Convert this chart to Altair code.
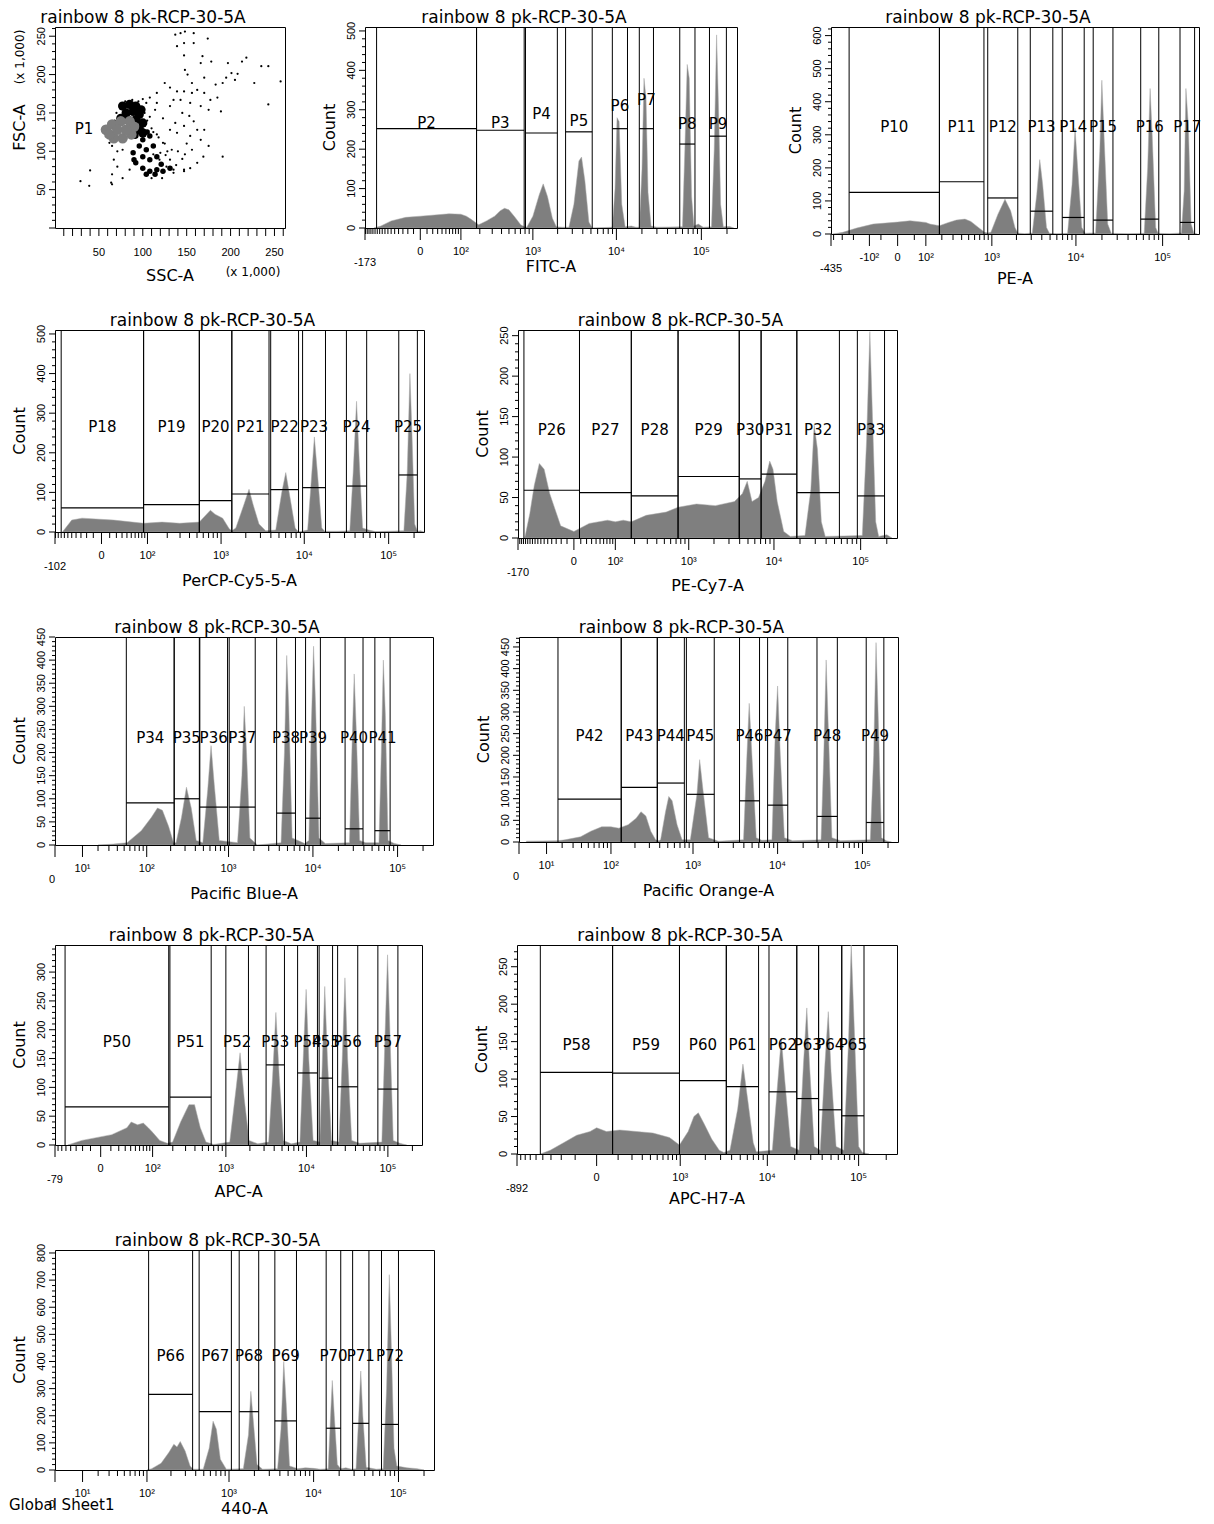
import math
import altair as alt
import pandas as pd

TITLE = "rainbow 8 pk-RCP-30-5A"
FONT = "DejaVu Sans"
TICK_FONT = "Liberation Sans"
TOP = 262144
HIST_FILL = "#7f7f7f"

# ---- FSC-A / SSC-A dot plot, values x 1,000 : (SSC, FSC) ----
scatter_dots = [
    (137, 252), (143, 254), (148, 256), (158, 254), (139, 237), (147, 241), (158, 241), (174, 247),
    (147, 225), (168, 224), (166, 215), (178, 217), (197, 215), (213, 217), (218, 222), (235, 211),
    (243, 211), (257, 191), (148, 206), (151, 200), (156, 189), (170, 196), (183, 187), (191, 189),
    (195, 196), (205, 193), (208, 201), (227, 189), (201, 202), (125, 189), (116, 176), (131, 183),
    (139, 178), (147, 178), (156, 176), (162, 180), (170, 176), (177, 167), (185, 170), (143, 167),
    (154, 163), (166, 159), (175, 154), (189, 152), (243, 161), (145, 150), (153, 146), (158, 139),
    (137, 137), (147, 133), (162, 128), (170, 128), (139, 124), (154, 120), (166, 115), (175, 107),
    (156, 102), (148, 96), (169, 93), (191, 93), (162, 85), (154, 78), (147, 74), (135, 76),
    (127, 80), (119, 89), (133, 102), (123, 111), (116, 122), (131, 128), (123, 143), (114, 154),
    (104, 163), (116, 163), (131, 159), (135, 167), (108, 170), (29, 61), (40, 75), (39, 55),
    (64, 59), (65, 57), (65, 70), (77, 65), (71, 80), (67, 89), (85, 76), (110, 65), (122, 65),
    (135, 72), (147, 76), (131, 89), (62, 111), (65, 107), (71, 100), (77, 102), (105, 140),
    (110, 130), (112, 125), (118, 118), (125, 110), (128, 100), (120, 98), (112, 96), (140, 100),
    (150, 110), (145, 90), (138, 82), (126, 95), (102, 150), (108, 145), (95, 165), (100, 168),
    (88, 167), (80, 165), (70, 150), (68, 140),
]
scatter_tail = [
    (92, 120), (100, 115), (108, 120), (96, 107), (104, 102), (112, 107), (100, 93), (108, 89),
    (116, 93), (92, 85), (100, 78), (108, 74), (116, 76), (123, 74), (131, 78), (104, 70),
    (114, 70), (121, 83), (89, 98), (90, 89), (98, 130), (105, 125),
]
scatter_core = [
    (77, 159), (85, 161), (92, 159), (98, 154), (81, 150), (89, 152), (96, 148), (75, 143),
    (83, 141), (92, 141), (100, 137), (94, 128), (100, 124), (90, 122),
]
scatter_p1 = [
    (58, 128), (65, 135), (75, 139), (85, 139), (90, 132), (87, 122), (77, 117), (67, 117),
    (62, 122), (71, 128), (81, 128),
]

# ---- histograms: (channel value, count) and interval gates ----
fitc_hist = [
    (-125, 0), (-95, 5), (-60, 18), (-24, 27), (0, 30), (24, 33), (59, 36), (100, 35), (124, 30),
    (148, 22), (179, 12), (192, 8), (249, 18), (323, 30), (385, 44), (438, 50), (499, 46),
    (594, 28), (706, 8), (783, 3), (841, 2), (1000, 30), (1200, 85), (1339, 112), (1510, 80),
    (1730, 25), (1931, 3), (2300, 2), (2733, 2), (3135, 60), (3597, 170), (3866, 180),
    (4236, 120), (4728, 15), (5176, 0), (8955, 2), (9639, 100), (10180, 280), (10760, 270),
    (11570, 60), (12680, 3), (15000, 5), (17000, 2), (18620, 2), (20040, 150), (21150, 380),
    (22340, 330), (23600, 90), (25620, 5), (30000, 2), (59980, 3), (63970, 200), (68150, 415),
    (71990, 380), (76740, 80), (81850, 5), (92000, 10), (105000, 2), (131500, 3), (141600, 200),
    (151000, 490), (159300, 300), (168400, 60), (181100, 3), (215000, 4), (240000, 0),
]
fitc_names = ["P2", "P3", "P4", "P5", "P6", "P7", "P8", "P9"]
fitc_x1 = [-113, 179, 810, 2494, 8955, 18620, 55700, 124500]
fitc_x2 = [179, 780, 1986, 5176, 13520, 27350, 84100, 196700]
fitc_level = [252, 248, 241, 244, 252, 252, 213, 233]
fitc_label_y = [267, 267, 288, 271, 309, 326, 264, 264]

pe_hist = [
    (-411, 0), (-294, 5), (-176, 18), (-82, 30), (0, 36), (35, 40), (100, 35), (122, 30),
    (182, 25), (256, 35), (337, 42), (445, 45), (535, 38), (673, 20), (809, 5), (887, 3),
    (973, 5), (1191, 60), (1453, 105), (1703, 70), (1918, 20), (2075, 3), (2500, 1),
    (3090, 3), (3488, 120), (3782, 225), (4093, 150), (4539, 20), (4913, 2), (6000, 1),
    (8000, 2), (9020, 150), (9770, 320), (10470, 200), (11690, 20), (12820, 2), (14500, 3),
    (16900, 3), (18880, 250), (19950, 465), (21280, 280), (23330, 30), (25580, 2), (40000, 1),
    (61380, 2), (67300, 200), (71780, 440), (75860, 300), (83180, 20), (88720, 2), (120000, 1),
    (164400, 3), (177000, 130), (185400, 440), (197700, 330), (212800, 30), (229100, 2),
    (250000, 0),
]
pe_names = ["P10", "P11", "P12", "P13", "P14", "P15", "P16", "P17"]
pe_x1 = [-235, 182, 887, 2924, 6934, 15850, 55970, 158500]
pe_x2 = [182, 794, 2075, 5383, 12470, 26790, 90360, 233300]
pe_level = [126, 158, 109, 69, 50, 42, 45, 35]
pe_label_y = [325] * 8

percp_hist = [
    (-76, 0), (-50, 30), (-28, 35), (16, 30), (86, 22), (168, 25), (296, 22), (535, 25),
    (594, 35), (738, 55), (841, 45), (1047, 35), (1259, 8), (1355, 3), (1514, 10), (1905, 70),
    (2188, 108), (2443, 70), (2884, 20), (3467, 3), (4571, 5), (5395, 100), (6026, 150),
    (6730, 90), (7798, 10), (8551, 0), (10960, 5), (12020, 120), (13180, 240), (14450, 140),
    (16140, 10), (17500, 2), (25000, 2), (34670, 3), (38020, 150), (41690, 330), (44870, 180),
    (49200, 10), (58000, 5), (70000, 1), (151400, 3), (166000, 150), (178600, 400),
    (188800, 250), (203200, 20), (218800, 2), (240000, 3), (262000, 0),
]
percp_names = ["P18", "P19", "P20", "P21", "P22", "P23", "P24", "P25"]
percp_x1 = [-80, 86, 535, 1355, 3981, 9550, 31620, 131800]
percp_x2 = [86, 535, 1355, 3802, 8551, 17860, 54950, 218800]
percp_level = [61, 69, 79, 96, 107, 112, 116, 144]
percp_label_y = [265] * 8

pecy7_hist = [
    (-134, 0), (-111, 30), (-93, 65), (-75, 92), (-60, 85), (-45, 55), (-21, 15), (0, 8),
    (25, 18), (72, 22), (100, 20), (135, 22), (179, 20), (290, 28), (527, 32), (741, 38),
    (1239, 42), (2075, 40), (3475, 45), (4305, 55), (4898, 70), (5572, 45), (6622, 50),
    (7870, 70), (8934, 95), (9750, 85), (10910, 45), (12970, 8), (15450, 2), (22800, 3),
    (26670, 60), (29110, 140), (31770, 110), (35240, 20), (39080, 2), (104400, 3),
    (117000, 120), (127600, 255), (136800, 150), (149100, 20), (161300, 2), (200000, 4),
    (230000, 0),
]
pecy7_names = ["P26", "P27", "P28", "P29", "P30", "P31", "P32", "P33"]
pecy7_x1 = [-138, 8, 179, 741, 3954, 7096, 18380, 91620]
pecy7_x2 = [8, 179, 741, 3954, 7096, 18380, 56890, 188400]
pecy7_level = [59, 56, 52, 76, 73, 79, 56, 52]
pecy7_label_y = [133] * 8

pb_hist = [
    (20, 0), (35, 2), (55, 5), (85, 31), (115, 60), (137, 80), (158, 75), (189, 40), (217, 5),
    (233, 5), (272, 60), (312, 125), (357, 80), (410, 10), (492, 5), (564, 120), (618, 215),
    (676, 130), (775, 10), (1279, 5), (1442, 150), (1538, 300), (1637, 200), (1795, 15),
    (2200, 0), (4198, 5), (4603, 200), (4898, 410), (5176, 300), (5675, 15), (7000, 8),
    (8000, 3), (8955, 10), (9550, 250), (10180, 430), (10760, 300), (11800, 15), (14000, 3),
    (27040, 5), (28840, 200), (30760, 370), (32510, 250), (35650, 10), (42000, 5), (60260, 5),
    (64270, 200), (67920, 400), (71780, 280), (77270, 10), (90000, 4), (110000, 0),
]
pb_names = ["P34", "P35", "P36", "P37", "P38", "P39", "P40", "P41"]
pb_x1 = [53.6, 221, 453, 1018, 3724, 8185, 23990, 53950]
pb_x2 = [221, 447, 973, 2075, 6220, 12250, 39080, 81660]
pb_level = [91, 100, 82, 82, 69, 58, 35, 31]
pb_label_y = [231] * 8

po_hist = [
    (2, 2), (17, 3), (22.3, 5), (38.8, 12), (54.2, 25), (75.7, 35), (100, 35), (126, 32),
    (165, 40), (207, 55), (237, 70), (272, 60), (312, 25), (357, 5), (392, 3), (410, 5),
    (470, 70), (514, 105), (564, 95), (646, 40), (741, 5), (929, 5), (1114, 110), (1199, 190),
    (1314, 120), (1531, 10), (2000, 2), (3963, 5), (4345, 200), (4624, 320), (4977, 200),
    (5598, 10), (6500, 4), (8570, 5), (9376, 250), (10000, 360), (10760, 200), (12020, 10),
    (15000, 3), (32510, 5), (34990, 200), (37330, 420), (39810, 250), (43650, 10), (55000, 3),
    (123600, 5), (135500, 200), (144500, 460), (152800, 300), (167500, 10), (190000, 3),
    (220000, 0),
]
po_names = ["P42", "P43", "P44", "P45", "P46", "P47", "P48", "P49"]
po_x1 = [16.9, 135, 374, 834, 3556, 7621, 29110, 110700]
po_x2 = [135, 374, 789, 1786, 6124, 13180, 50580, 178600]
po_level = [99, 126, 136, 110, 95, 85, 59, 45]
po_label_y = [244] * 8

apc_hist = [
    (-46, 0), (-21, 8), (11, 18), (33, 30), (41, 40), (55, 35), (70, 38), (85, 30), (100, 22),
    (129, 8), (167, 3), (199, 5), (257, 40), (333, 70), (395, 70), (470, 30), (557, 5),
    (700, 1), (1119, 5), (1349, 100), (1507, 160), (1702, 80), (1956, 8), (2500, 2),
    (3420, 5), (3828, 120), (4200, 230), (4613, 120), (5210, 8), (6500, 2), (8310, 5),
    (9120, 150), (9910, 270), (10680, 150), (12080, 8), (14590, 5), (15710, 150), (16790, 275),
    (18110, 150), (20280, 8), (25060, 5), (27540, 150), (29720, 290), (32060, 150), (35970, 8),
    (45000, 3), (84330, 5), (92680, 200), (99080, 330), (105700, 200), (116300, 8),
    (140000, 3), (170000, 0),
]
apc_names = ["P50", "P51", "P52", "P53", "P54", "P55", "P56", "P57"]
apc_x1 = [-52, 182, 1000, 3177, 7780, 14320, 24150, 75340]
apc_x2 = [175, 650, 1919, 5358, 13650, 20940, 42660, 132700]
apc_level = [66, 83, 131, 139, 125, 116, 101, 97]
apc_label_y = [179] * 8

h7_hist = [
    (-435, 0), (-308, 5), (-181, 15), (-91, 25), (-25, 30), (0, 35), (39, 30), (110, 32),
    (240, 30), (435, 28), (731, 22), (979, 12), (1251, 30), (1467, 50), (1656, 55), (1943, 40),
    (2371, 20), (2897, 5), (3268, 2), (3830, 5), (4677, 60), (5358, 120), (6095, 70),
    (6982, 15), (7550, 3), (11350, 5), (13110, 100), (14260, 155), (15520, 100), (18070, 10),
    (22340, 5), (24950, 120), (27160, 195), (29040, 120), (32730, 10), (38110, 5),
    (42850, 120), (46660, 190), (50000, 110), (56750, 10), (68870, 5), (77620, 150),
    (82990, 280), (88920, 180), (100000, 10), (110000, 2), (130000, 0),
]
h7_names = ["P58", "P59", "P60", "P61", "P62", "P63", "P64", "P65"]
h7_x1 = [-435, 69, 979, 3483, 10430, 21090, 36560, 65460]
h7_x2 = [69, 979, 3483, 8000, 21090, 36560, 65460, 114500]
h7_level = [109, 108, 98, 90, 83, 74, 59, 51]
h7_label_y = [145] * 8

v440_hist = [
    (100, 0), (115, 5), (151, 25), (189, 65), (217, 95), (237, 85), (260, 105), (298, 70),
    (342, 15), (374, 3), (492, 3), (580, 80), (646, 180), (708, 150), (789, 40), (929, 3),
    (1479, 5), (1702, 130), (1816, 290), (1919, 200), (2148, 20), (2500, 3), (3758, 5),
    (4121, 150), (4446, 400), (4742, 250), (5206, 15), (6500, 5), (8000, 8), (10000, 6),
    (12000, 3), (14860, 5), (15850, 200), (16600, 330), (17540, 200), (19050, 20), (20890, 5),
    (24000, 8), (28000, 3), (31620, 5), (34040, 200), (35970, 365), (38020, 200), (41690, 10),
    (55000, 3), (66070, 5), (72440, 300), (77980, 720), (81660, 500), (88720, 80), (95500, 15),
    (125900, 8), (166000, 5), (200000, 0),
]
v440_names = ["P66", "P67", "P68", "P69", "P70", "P71", "P72"]
v440_x1 = [105, 440, 1321, 3490, 14060, 28840, 63100]
v440_x2 = [367, 1067, 2249, 6281, 20890, 44870, 100000]
v440_level = [279, 215, 215, 181, 154, 172, 168]
v440_label_y = [421] * 7

SUP = {1: "\u00b9", 2: "\u00b2", 3: "\u00b3", 4: "\u2074", 5: "\u2075"}
LOG_MINORS = [k * 10 ** d for d in (2, 3, 4) for k in range(2, 10)] + [200000]
DECADES = [100, 1000, 10000, 100000]


def tick_text(v):
    if v == 0:
        return "0"
    if v < 0:
        return "-10" + SUP[round(math.log10(-v))]
    return "10" + SUP[round(math.log10(v))]


def one_text(txt, x, y, size=16, angle=0, align="center", baseline="alphabetic"):
    return alt.Chart(pd.DataFrame({"txt": [txt]})).mark_text(
        font=FONT, fontSize=size, angle=angle, align=align, baseline=baseline, color="black"
    ).encode(x=alt.value(x), y=alt.value(y), text="txt:N")


def x_guides(w, h, dmin, majors, minors, title, title_y):
    # hand-drawn bottom axis: ticks and labels placed through the panel's x scale
    X = alt.X("t:Q", axis=None)
    major_df = pd.DataFrame({"t": majors, "lab": [tick_text(v) for v in majors]})
    low_df = pd.DataFrame({"t": [dmin], "lab": [str(dmin)]})
    return [
        alt.Chart(pd.DataFrame({"t": minors})).mark_rule(color="black").encode(
            x=X, y=alt.value(h), y2=alt.value(h + 6)),
        alt.Chart(pd.DataFrame({"t": [dmin] + majors})).mark_rule(color="black").encode(
            x=X, y=alt.value(h), y2=alt.value(h + 12)),
        alt.Chart(major_df).mark_text(font=TICK_FONT, fontSize=11, baseline="top", color="black").encode(
            x=X, y=alt.value(h + 18), text="lab:N"),
        alt.Chart(low_df).mark_text(font=TICK_FONT, fontSize=11, baseline="top", color="black",
                                    align="center" if dmin < 0 else "right").encode(
            x=X, y=alt.value(h + 29), text="lab:N"),
        one_text(title, w / 2, h + title_y),
    ]


def y_guides(h, top, major, minor, title, hide_zero=False):
    Y = alt.Y("t:Q", axis=None)
    vals = list(range(0, int(top) + 1, minor))
    majors = [v for v in vals if v % major == 0]
    minors = [v for v in vals if v % major != 0]
    shown = [v for v in majors if v > 0 or not hide_zero]
    return [
        alt.Chart(pd.DataFrame({"t": minors})).mark_rule(color="black").encode(
            y=Y, x=alt.value(-3), x2=alt.value(0)),
        alt.Chart(pd.DataFrame({"t": majors})).mark_rule(color="black").encode(
            y=Y, x=alt.value(-6), x2=alt.value(0)),
        alt.Chart(pd.DataFrame({"t": shown, "lab": [str(v) for v in shown]})).mark_text(
            font=TICK_FONT, fontSize=11, angle=270, align="center", baseline="bottom", color="black"
        ).encode(y=Y, x=alt.value(-8), text="lab:N"),
        one_text(title, -30, h / 2, angle=270),
    ]


def hist_panel(hist, names, x1, x2, level, label_y, const, dmin, majors, minors,
               ymax, ymajor, yminor, xtitle, title_y, w, h, extra=()):
    xs = alt.Scale(type="symlog", constant=const, domain=[dmin, TOP], nice=False)
    ys = alt.Scale(domain=[0, ymax], nice=False)
    hdf = pd.DataFrame(hist, columns=["v", "n"])
    gdf = pd.DataFrame({"name": names, "x1": x1, "x2": x2, "lev": level, "ly": label_y})

    area = alt.Chart(hdf).mark_area(color=HIST_FILL, stroke="#a8a8a8", strokeWidth=0.5, clip=True).encode(
        x=alt.X("v:Q", scale=xs, axis=None), y=alt.Y("n:Q", scale=ys, axis=None)
    )
    left = alt.Chart(gdf).mark_rule(color="black", strokeWidth=1).encode(x=alt.X("x1:Q", axis=None))
    right = alt.Chart(gdf).mark_rule(color="black", strokeWidth=1).encode(x=alt.X("x2:Q", axis=None))
    hline = alt.Chart(gdf).mark_rule(color="black", strokeWidth=1.2).encode(
        x=alt.X("x1:Q", axis=None), x2="x2:Q", y=alt.Y("lev:Q", axis=None)
    )
    # gate name centred between the gate edges in symlog space
    sl = lambda f: f"((datum.{f} < 0 ? -1 : 1) * log(1 + abs(datum.{f}) / {const}))"
    labels = alt.Chart(gdf).transform_calculate(
        m=f"({sl('x1')} + {sl('x2')}) / 2"
    ).transform_calculate(
        lx=f"(datum.m < 0 ? -1 : 1) * {const} * (exp(abs(datum.m)) - 1)"
    ).mark_text(font=FONT, fontSize=15, baseline="middle", color="black").encode(
        x=alt.X("lx:Q", axis=None), y=alt.Y("ly:Q", axis=None), text="name:N"
    )
    guides = x_guides(w, h, dmin, majors, minors, xtitle, title_y) + y_guides(h, ymax, ymajor, yminor, "Count")
    head = one_text(TITLE, w / 2 - 27, -4, size=17)
    return alt.layer(area, left, right, hline, labels, head, *guides, *extra).properties(width=w, height=h)


# ---- scatter panel ----
sx = alt.Scale(domain=[0, 262], nice=False)
sy = alt.Scale(domain=[0, 262], nice=False)


def dots(pts, size, color):
    df = pd.DataFrame(pts, columns=["ssc", "fsc"])
    return alt.Chart(df).mark_circle(size=size, color=color, opacity=1).encode(
        x=alt.X("ssc:Q", scale=sx, axis=None), y=alt.Y("fsc:Q", scale=sy, axis=None)
    )


s_ticks = list(range(10, 261, 10))
s_labels = [v for v in s_ticks if v % 50 == 0]
SX = alt.X("t:Q", axis=None)
scatter_guides = [
    alt.Chart(pd.DataFrame({"t": s_ticks})).mark_rule(color="black").encode(
        x=SX, y=alt.value(201), y2=alt.value(209)),
    alt.Chart(pd.DataFrame({"t": s_labels, "lab": [str(v) for v in s_labels]})).mark_text(
        font=TICK_FONT, fontSize=11, baseline="top", color="black").encode(
        x=SX, y=alt.value(220), text="lab:N"),
    one_text("SSC-A", 115, 254),
    one_text("(x 1,000)", 198, 249, size=12),
    one_text("(x 1,000)", -31, 30, size=12, angle=270),
    one_text(TITLE, 115 - 27, -4, size=17),
] + y_guides(201, 262, 50, 10, "FSC-A", hide_zero=True)

p1_label = alt.Chart(pd.DataFrame({"ssc": [33], "fsc": [129], "t": ["P1"]})).mark_text(
    font=FONT, fontSize=15, color="black"
).encode(x=alt.X("ssc:Q", axis=None), y=alt.Y("fsc:Q", axis=None), text="t:N")

scatter = alt.layer(
    dots(scatter_dots, 5, "black"), dots(scatter_tail, 30, "black"),
    dots(scatter_core, 85, "black"), dots(scatter_p1, 110, "#7d7d7d"),
    p1_label, *scatter_guides,
).properties(width=230, height=201)

lin_minors = lambda lo: list(range(lo, 0, 10)) + list(range(10, 100, 10))

fitc = hist_panel(fitc_hist, fitc_names, fitc_x1, fitc_x2, fitc_level, fitc_label_y,
                  50, -173, [0] + DECADES, lin_minors(-170) + LOG_MINORS,
                  510, 100, 20, "FITC-A", 44, 372, 201)
pe = hist_panel(pe_hist, pe_names, pe_x1, pe_x2, pe_level, pe_label_y,
                90, -435, [-100, 0] + DECADES, [-400, -300, -200, -50, 50] + LOG_MINORS,
                626, 100, 20, "PE-A", 50, 368, 207)
percp = hist_panel(percp_hist, percp_names, percp_x1, percp_x2, percp_level, percp_label_y,
                   40, -102, [0] + DECADES, lin_minors(-100) + LOG_MINORS,
                   510, 100, 20, "PerCP-Cy5-5-A", 54, 369, 202)
pecy7 = hist_panel(pecy7_hist, pecy7_names, pecy7_x1, pecy7_x2, pecy7_level, pecy7_label_y,
                   50, -170, [0] + DECADES, lin_minors(-160) + LOG_MINORS,
                   257, 50, 10, "PE-Cy7-A", 53, 379, 208)
pb = hist_panel(pb_hist, pb_names, pb_x1, pb_x2, pb_level, pb_label_y,
                9, 0, [10] + DECADES, list(range(20, 100, 10)) + LOG_MINORS,
                450, 50, 10, "Pacific Blue-A", 54, 378, 208)
po = hist_panel(po_hist, po_names, po_x1, po_x2, po_level, po_label_y,
                9, 0, [10] + DECADES, list(range(20, 100, 10)) + LOG_MINORS,
                473, 50, 10, "Pacific Orange-A", 54, 379, 205)
apc = hist_panel(apc_hist, apc_names, apc_x1, apc_x2, apc_level, apc_label_y,
                 30, -79, [0] + DECADES, lin_minors(-70) + LOG_MINORS,
                 347, 50, 10, "APC-A", 52, 367, 200)
h7 = hist_panel(h7_hist, h7_names, h7_x1, h7_x2, h7_level, h7_label_y,
                140, -892, [0, 1000, 10000, 100000],
                list(range(-800, 0, 100)) + list(range(100, 1000, 100)) + LOG_MINORS[8:],
                279, 50, 10, "APC-H7-A", 50, 380, 209)
footer = one_text("Global Sheet1", -46, 260, size=15, align="left")
v440 = hist_panel(v440_hist, v440_names, v440_x1, v440_x2, v440_level, v440_label_y,
                  9, 0, [10] + DECADES, list(range(20, 100, 10)) + LOG_MINORS,
                  811, 100, 20, "440-A", 44, 379, 220, extra=(footer,))

row1 = alt.hconcat(scatter, alt.hconcat(fitc, pe, spacing=49), spacing=35)
row2 = alt.hconcat(percp, pecy7, spacing=49)
row3 = alt.hconcat(pb, po, spacing=41)
row4 = alt.hconcat(apc, h7, spacing=50)

chart = alt.vconcat(row1, row2, row3, row4, v440, spacing=23).properties(
    padding=0
).configure_view(
    stroke="black", strokeWidth=1
)

chart.save("out.html", embed_options={"renderer": "svg", "actions": False})
